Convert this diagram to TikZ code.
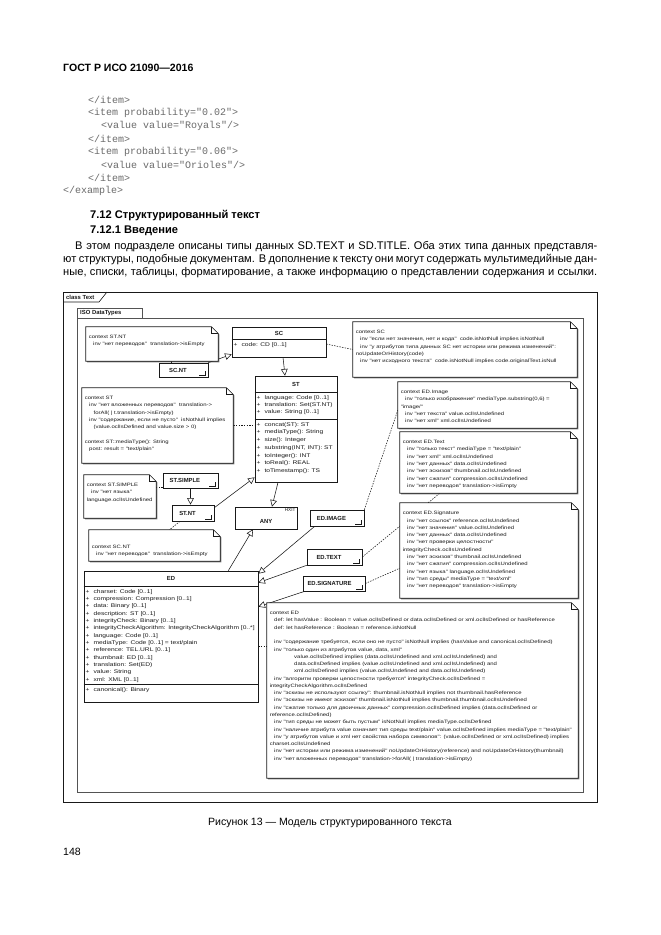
\documentclass[tikz,border=0pt]{standalone}
\usepackage{fontspec}
\setmainfont{Liberation Sans}
\setmonofont{Liberation Mono}
\newfontfamily\umlfont[FakeStretch=1.25]{Liberation Sans}
\usetikzlibrary{arrows.meta,positioning,calc,fit,shadows,backgrounds}

\definecolor{ink}{gray}{0.1}
\definecolor{codegray}{gray}{0.42}
\newcommand{\pub}{+\hspace{3.6pt}}
\newcommand{\noteindent}{\hspace*{4pt}}
\newcommand{\contindent}{\hspace*{22pt}}

\tikzset{
  classbox/.style={draw=ink, fill=white, line width=0.55pt, inner sep=0pt,
    drop shadow={shadow xshift=1.1pt, shadow yshift=-1.1pt, fill=black!70, opacity=0.7}},
  classname/.style={font=\bfseries\fontsize{5.3}{6}\selectfont, inner sep=0pt, text=ink},
  members/.style={font=\umlfont\fontsize{4.8}{6.6}\selectfont, align=left, anchor=north west,
    inner sep=1.6pt, text=ink},
  noteframe/.style={inner sep=0pt},
  notetext/.style={font=\umlfont\fontsize{4.3}{6.55}\selectfont, align=left, anchor=north west,
    inner xsep=2.5pt, inner ysep=7.5pt, text=ink},
  general/.style={draw=ink, line width=0.5pt, -{Triangle[open, length=6pt, width=6pt]}},
  anchorline/.style={draw=ink, line width=0.5pt, dash pattern=on 1.3pt off 1.1pt},
  bodytext/.style={font=\fontsize{10}{12}\selectfont, anchor=west, inner sep=0pt},
  codeline/.style={font=\ttfamily\fontsize{9}{11}\selectfont, text=codegray, anchor=west, inner sep=0pt}
}

\begin{document}
\begin{tikzpicture}[x=0.9pt, y=-0.9pt]
  \useasboundingbox (0,0) rectangle (661,935);
  \begin{scope}[on background layer]
    \fill[white] (0,0) rectangle (661,935);
  \end{scope}

  % page text
  \node[bodytext, font=\bfseries\fontsize{9.5}{11}\selectfont] (header) at (63,68) {ГОСТ Р ИСО 21090—2016};
  \node[codeline] (c1) at (88,100) {</item>};
  \node[codeline] (c2) at (88,113) {<item probability="0.02">};
  \node[codeline] (c3) at (101,126) {<value value="Royals"/>};
  \node[codeline] (c4) at (88,139) {</item>};
  \node[codeline] (c5) at (88,152) {<item probability="0.06">};
  \node[codeline] (c6) at (101,165) {<value value="Orioles"/>};
  \node[codeline] (c7) at (88,178) {</item>};
  \node[codeline] (c8) at (63,191) {</example>};
  \node[bodytext, font=\bfseries\fontsize{10}{12}\selectfont] (sec) at (90,216) {7.12 Структурированный текст};
  \node[bodytext, font=\bfseries\fontsize{10}{12}\selectfont] (subsec) at (90,231) {7.12.1 Введение};
  \node[bodytext] (para1) at (75,247) {\makebox[469.8pt][s]{В этом подразделе описаны типы данных SD.TEXT и SD.TITLE. Оба этих типа данных представля-}};
  \node[bodytext] (para2) at (63,260) {\makebox[480.6pt][s]{ют структуры, подобные документам. В дополнение к тексту они могут содержать мультимедийные дан-}};
  \node[bodytext] (para3) at (63,273) {\makebox[480.6pt][s]{ные, списки, таблицы, форматирование, а также информацию о представлении содержания и ссылки.}};
  \node[bodytext, anchor=center, font=\fontsize{9.5}{11}\selectfont] (caption) at (330,823) {Рисунок 13 — Модель структурированного текста};
  \node[bodytext, font=\fontsize{9.5}{11}\selectfont] (pageno) at (63,852) {148};

  % frame and package
  \draw[ink, line width=0.6pt] (63,292) rectangle (597,802);
  \draw[ink, line width=0.5pt] (63,302) -- (99,302) -- (107,292);
  \node[classname, anchor=west] (frametitle) at (66,297.5) {class Text};
  \draw[ink!75, line width=0.5pt] (77,318) rectangle (583,792);
  \draw[ink!75, line width=0.5pt] (77,308) rectangle (142,318);
  \node[classname, anchor=west] (pkgtitle) at (80,313) {ISO DataTypes};

  % classes
  \node[classbox, fit={(232,327) (326,357)}] (sc) {};
  \draw[ink, line width=0.5pt] ($(sc.north west)+(0,13)$) -- ($(sc.north east)+(0,13)$);
  \node[classname] (scname) at ($(sc.north)+(0,6.5)$) {SC};
  \node[members] (scattr) at ($(sc.north west)+(0,13.5)$) {\pub code: CD [0..1]};

  \node[classbox, fit={(255,376) (337,482)}] (st) {};
  \draw[ink, line width=0.5pt] ($(st.north west)+(0,17)$) -- ($(st.north east)+(0,17)$);
  \draw[ink, line width=0.5pt] ($(st.north west)+(0,44)$) -- ($(st.north east)+(0,44)$);
  \node[classname] (stname) at ($(st.north)+(0,8.5)$) {ST};
  \node[members] (stattr) at ($(st.north west)+(0,17.5)$)
    {\pub language: Code [0..1]\\\pub translation: Set(ST.NT)\\\pub value: String [0..1]};
  \node[members, font=\umlfont\fontsize{4.8}{7}\selectfont] (stops) at ($(st.north west)+(0,44.5)$)
    {\pub concat(ST): ST\\\pub mediaType(): String\\\pub size(): Integer\\\pub substring(INT, INT): ST\\
     \pub toInteger(): INT\\\pub toReal(): REAL\\\pub toTimestamp(): TS};

  \node[classbox, fit={(159,363) (208,377)}] (scnt) {};
  \node[classname] (scntname) at ([xshift=-5pt]scnt.center) {SC.NT};
  \node[classbox, fit={(163,473) (218,488)}] (stsimple) {};
  \node[classname] (stsimplename) at ([xshift=-5pt]stsimple.center) {ST.SIMPLE};
  \node[classbox, fit={(172,505) (214,521)}] (stnt) {};
  \node[classname] (stntname) at ([xshift=-5pt]stnt.center) {ST.NT};
  \node[classbox, fit={(235,507) (297,529)}] (any) {};
  \node[classname] (anyname) at ([yshift=-3.5pt]any.center) {ANY};
  \node[font=\fontsize{4.2}{5}\selectfont, anchor=north east, inner sep=1.5pt, text=ink] (anystereo) at (any.north east) {HXIT};
  \node[classbox, fit={(310,510) (364,526)}] (edimage) {};
  \node[classname] (edimagename) at ([xshift=-5pt]edimage.center) {ED.IMAGE};
  \node[classbox, fit={(307,549) (362,565)}] (edtext) {};
  \node[classname] (edtextname) at ([xshift=-5pt]edtext.center) {ED.TEXT};
  \node[classbox, fit={(303,576) (365,591)}] (edsig) {};
  \node[classname] (edsigname) at ([xshift=-4pt]edsig.center) {ED.SIGNATURE};
  \foreach \c in {scnt, stsimple, stnt, edimage, edtext, edsig}
    \draw[ink, line width=0.4pt] ([shift={(-8pt,2.2pt)}]\c.south east) -- ([shift={(-3pt,2.2pt)}]\c.south east)
      -- ([shift={(-3pt,5.5pt)}]\c.south east);

  \node[classbox, fit={(84,571) (258,702)}] (ed) {};
  \draw[ink, line width=0.5pt] ($(ed.north west)+(0,16)$) -- ($(ed.north east)+(0,16)$);
  \draw[ink, line width=0.5pt] ($(ed.north west)+(0,114)$) -- ($(ed.north east)+(0,114)$);
  \node[classname] (edname) at ($(ed.north)+(0,8)$) {ED};
  \node[members] (edattr) at ($(ed.north west)+(0,16.5)$)
    {\pub charset: Code [0..1]\\\pub compression: Compression [0..1]\\\pub data: Binary [0..1]\\
     \pub description: ST [0..1]\\\pub integrityCheck: Binary [0..1]\\
     \pub integrityCheckAlgorithm: IntegrityCheckAlgorithm [0..*]\\\pub language: Code [0..1]\\
     \pub mediaType: Code [0..1] = text/plain\\\pub reference: TEL.URL [0..1]\\\pub thumbnail: ED [0..1]\\
     \pub translation: Set(ED)\\\pub value: String\\\pub xml: XML [0..1]};
  \node[members] (edops) at ($(ed.north west)+(0,114.5)$) {\pub canonical(): Binary};

  % notes
  \node[noteframe, fit={(86,327) (218,361)}] (nstnt) {};
  \node[noteframe, fit={(353,322) (577,377)}] (nsc) {};
  \node[noteframe, fit={(82,388) (233,463)}] (nst) {};
  \node[noteframe, fit={(398,382) (577,428)}] (nedimage) {};
  \node[noteframe, fit={(400,432) (577,493)}] (nedtext) {};
  \node[noteframe, fit={(84,475) (156,518)}] (nstsimple) {};
  \node[noteframe, fit={(89,530) (220,561)}] (nscnt) {};
  \node[noteframe, fit={(400,503) (578,598)}] (nedsig) {};
  \node[noteframe, fit={(267,603) (578,778)}] (ned) {};

  % connectors
  \begin{scope}[on background layer]
    \draw[general] (scnt.north east) -- ($(sc.south west)+(0,-3)$);
    \draw[general] ($(sc.south)+(4,0)$) -- ($(st.north)+(-11,0)$);
    \draw[general] (stsimple.south) -- (stsimple.south |- stnt.north);
    \draw[general] ($(stnt.north east)+(0,3)$) -- ($(st.south west)+(0,-5)$);
    \draw[general] ($(st.south)+(-18,0)$) -- ($(any.north)+(6,0)$);
    \draw[general] ($(ed.north east)+(-30,0)$) -- ($(any.south)+(-13,0)$);
    \draw[general] ($(edimage.south west)+(5,0)$) -- ($(ed.north east)+(0,3)$);
    \draw[general] (edtext.south west) -- ($(ed.north east)+(0,12)$);
    \draw[general] ($(edsig.south west)+(2,0)$) -- ($(ed.north east)+(0,36)$);

    \coordinate (scntpin) at ($(scnt.north west)+(13,0)$);
    \draw[anchorline] (scntpin) -- (scntpin |- nstnt.south);
    \draw[anchorline] ($(sc.east)+(0,2)$) -- (nsc.west);
    \draw[anchorline] (nst.east) -- (nst.east -| st.west);
    \coordinate (stsimplepin) at ($(stsimple.south west)+(0,-1)$);
    \draw[anchorline] (stsimplepin) -- (stsimplepin -| nstsimple.east);
    \draw[anchorline] ($(stnt.south)+(-13,0)$) -- ($(nscnt.north)+(15,0)$);
    \draw[anchorline] (edimage.north east) -- ($(nedimage.south west)+(0,-18)$);
    \draw[anchorline] (edtext.east) -- ($(nedtext.south west)+(40,0)$);
    \draw[anchorline] (edsig.east) -- ($(nedsig.south west)+(0,-30)$);
    \coordinate (edpin) at ($(ed.east)+(0,10)$);
    \draw[anchorline] (edpin) -- (edpin -| ned.west);
  \end{scope}

  \foreach \n in {nstnt, nsc, nst, nedimage, nedtext, nstsimple, nscnt, nedsig, ned}{
    \fill[black!70, opacity=0.7, transform canvas={shift={(1.1pt,-1.1pt)}}]
      (\n.south west) -- (\n.north west) -- ([xshift=-6pt]\n.north east)
      -- ([yshift=-6pt]\n.north east) -- (\n.south east) -- cycle;
    \filldraw[fill=white, draw=ink, line width=0.55pt]
      (\n.south west) -- (\n.north west) -- ([xshift=-6pt]\n.north east)
      -- ([yshift=-6pt]\n.north east) -- (\n.south east) -- cycle;
    \draw[ink, line width=0.45pt] ([xshift=-6pt]\n.north east) |- ([yshift=-6pt]\n.north east);
  }

  \node[notetext] (nstnttext) at (nstnt.north west)
    {context ST.NT\\\noteindent inv "нет переводов"\ \ translation->isEmpty};
  \node[notetext] (nsctext) at (nsc.north west)
    {context SC\\
     \noteindent inv "если нет значения, нет и кода"\ \ code.isNotNull implies isNotNull\\
     \noteindent inv "у атрибутов типа данных SC нет истории или режима изменений":\\
     noUpdateOrHistory(code)\\
     \noteindent inv "нет исходного текста"\ \ code.isNotNull implies code.originalText.isNull};
  \node[notetext] (nsttext) at (nst.north west)
    {context ST\\
     \noteindent inv "нет вложенных переводов"\ \ translation->\\
     \hspace*{8pt}forAll( | t.translation->isEmpty)\\
     \noteindent inv "содержание, если не пусто"\ \ isNotNull implies\\
     \hspace*{8pt}(value.oclIsDefined and value.size > 0)\\[6.55pt]
     context ST::mediaType(): String\\
     \noteindent post: result = "text/plain"};
  \node[notetext] (nedimagetext) at (nedimage.north west)
    {context ED.Image\\
     \noteindent inv "только изображение" mediaType.substring(0,6) =\\
     "image/"\\
     \noteindent inv "нет текста" value.oclIsUndefined\\
     \noteindent inv "нет xml" xml.oclIsUndefined};
  \node[notetext] (nedtexttext) at (nedtext.north west)
    {context ED.Text\\
     \noteindent inv "только текст" mediaType = "text/plain"\\
     \noteindent inv "нет xml" xml.oclIsUndefined\\
     \noteindent inv "нет данных" data.oclIsUndefined\\
     \noteindent inv "нет эскизов" thumbnail.oclIsUndefined\\
     \noteindent inv "нет сжатия" compression.oclIsUndefined\\
     \noteindent inv "нет переводов" translation->isEmpty};
  \node[notetext] (nstsimpletext) at (nstsimple.north west)
    {context ST.SIMPLE\\\noteindent inv "нет языка"\\language.oclIsUndefined};
  \node[notetext] (nscnttext) at ($(nscnt.north west)+(0,7)$)
    {context SC.NT\\\noteindent inv "нет переводов"\ \ translation->isEmpty};
  \node[notetext] (nedsigtext) at (nedsig.north west)
    {context ED.Signature\\
     \noteindent inv "нет ссылок" reference.oclIsUndefined\\
     \noteindent inv "нет значения" value.oclIsUndefined\\
     \noteindent inv "нет данных" data.oclIsUndefined\\
     \noteindent inv "нет проверки целостности"\\
     integrityCheck.oclIsUndefined\\
     \noteindent inv "нет эскизов" thumbnail.oclIsUndefined\\
     \noteindent inv "нет сжатия" compression.oclIsUndefined\\
     \noteindent inv "нет языка" language.oclIsUndefined\\
     \noteindent inv "тип среды" mediaType = "text/xml"\\
     \noteindent inv "нет переводов" translation->isEmpty};
  \node[notetext] (nedtext2) at (ned.north west)
    {context ED\\
     \noteindent def: let hasValue : Boolean = value.oclIsDefined or data.oclIsDefined or xml.oclIsDefined or hasReference\\
     \noteindent def: let hasReference : Boolean = reference.isNotNull\\[6.55pt]
     \noteindent inv "содержание требуется, если оно не пусто" isNotNull implies (hasValue and canonical.oclIsDefined)\\
     \noteindent inv "только один из атрибутов value, data, xml"\\
     \contindent value.oclIsDefined implies (data.oclIsUndefined and xml.oclIsUndefined) and\\
     \contindent data.oclIsDefined implies (value.oclIsUndefined and xml.oclIsUndefined) and\\
     \contindent xml.oclIsDefined implies (value.oclIsUndefined and data.oclIsUndefined)\\
     \noteindent inv "алгоритм проверки целостности требуется" integrityCheck.oclIsDefined =\\
     integrityCheckAlgorithm.oclIsDefined\\
     \noteindent inv "эскизы не используют ссылку": thumbnail.isNotNull implies not thumbnail.hasReference\\
     \noteindent inv "эскизы не имеют эскизов" thumbnail.isNotNull implies thumbnail.thumbnail.oclIsUndefined\\
     \noteindent inv "сжатие только для двоичных данных" compression.oclIsDefined implies (data.oclIsDefined or\\
     reference.oclIsDefined)\\
     \noteindent inv "тип среды не может быть пустым" isNotNull implies mediaType.oclIsDefined\\
     \noteindent inv "наличие атрибута value означает тип среды text/plain" value.oclIsDefined implies mediaType = "text/plain"\\
     \noteindent inv "у атрибутов value и xml нет свойства набора символов": (value.oclIsDefined or xml.oclIsDefined) implies\\
     charset.oclIsUndefined\\
     \noteindent inv "нет истории или режима изменений" noUpdateOrHistory(reference) and noUpdateOrHistory(thumbnail)\\
     \noteindent inv "нет вложенных переводов" translation->forAll( | translation->isEmpty)};
\end{tikzpicture}
\end{document}
